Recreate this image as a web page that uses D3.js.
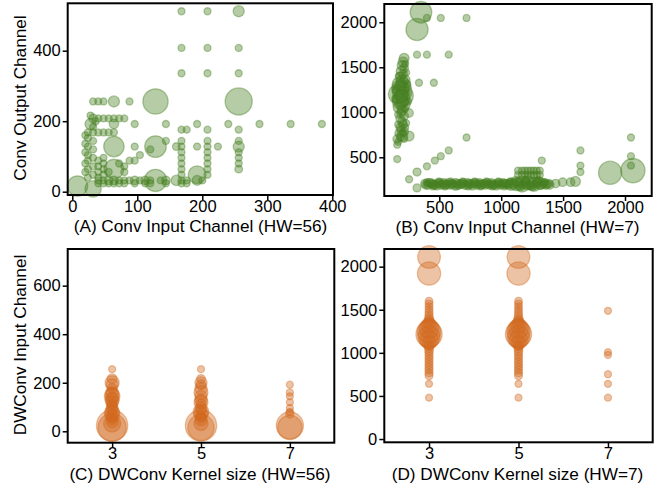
<!DOCTYPE html>
<html><head><meta charset="utf-8">
<script src="https://cdn.jsdelivr.net/npm/d3@7"></script>
<style>
html,body{margin:0;padding:0;background:#fff;}
svg{display:block;font-family:"Liberation Sans",Arial,sans-serif;}
</style></head><body>
<svg id="chart" width="660" height="483"></svg>
<script>
// ---- data: [input/kernel, channel, count] ----
const convHW56 = [
 [168,512,1],[208,512,1],[256,512,2.5],
 [168,408,1],[208,408,1],[256,408,1],
 [168,336,1],[208,336,1],[256,336,1],
 [32,256,1],[40,256,1],[48,256,1],[64,256,2.5],[88,256,1],[128,256,13],[256,256,15],
 [32,208,1.5],[40,208,1],[48,208,1],[56,208,1],[64,208,1],[72,208,1],[80,208,1],
 [28,192,2.5],[64,192,1.8],[96,192,1],[144,192,1],[192,192,1],[240,192,1],[288,192,1],[336,192,1],[384,192,1],
 [40,168,1],[48,168,1],[56,168,1],[64,168,1],[168,176,1],[176,176,1],[208,176,1],[256,176,1],
 [144,144,1],[168,144,1],[208,144,1],[256,144,1],
 [64,128,8.5],[96,128,1],[128,128,9.5],[120,120,1],[160,128,1.2],[168,128,1],[192,128,1],[208,128,1],[224,128,1],[256,128,2.5],
 [168,112,1],[168,96,1],[168,80,1],[168,64,1],[168,48,1],
 [208,112,1],[208,96,1],[208,80,1],[208,64,1],[208,48,1],
 [256,112,1],[256,96,1],[256,80,1],[256,64,1.2],
 [104,104,1],[88,88,1],[80,72,1],[72,80,1],[96,88,1],
 [192,48,6.5],[192,32,2],[160,32,2.2],[128,32,10],[64,64,8],
 [8,16,8.5],[32,8,5.5],
 [40,32,1],[48,32,1],[56,32,1.5],[64,32,1.5],[72,32,1],[80,32,1],[88,32,1],[96,32,1.5],[104,32,1],[112,32,1.5],[120,32,1],[136,32,1],[144,32,1.5],[168,32,1],[176,32,1],[200,32,1],
 [40,24,1],[48,24,1],[56,24,1],[64,24,1],[72,24,1],[80,24,1],[96,24,1],[112,24,1],[120,24,1],[144,24,1],[168,24,1],[176,24,1],
 [24,40,1],[24,64,1],[24,88,1],[24,104,1],[24,128,1],[24,152,1],[24,168,1],
 [20,56,1],[20,80,1],[20,112,1],[20,136,1],[20,160,1],
 [32,48,1],[32,72,1],[32,96,1],[32,120,1],[32,144,1],[32,168,1],[32,184,1],
 [36,200,1],[28,216,1],
 [40,40,1],[40,56,1],[40,72,1],[40,88,1],[48,48,1],[48,64,1],[48,80,1],[48,96,1],[56,56,1],[80,56,1]
];
const convHW7 = [
 [352,2112,9.5],[320,1920,10],[400,2048,1],[512,2048,1],[720,2048,1],
 [320,1640,1],[400,1640,1],[576,1640,1],
 [336,1328,1],[456,1328,1],
 [720,720,1],[160,640,1],[160,480,1],
 [576,576,1],[512,512,1],[464,464,1],[400,400,1],[320,336,1.3],[256,256,1],[320,160,1.3],
 [216,1600,2],[208,1560,2],[200,1520,2],[216,1488,1.5],[192,1456,2],[208,1424,1.5],[184,1392,2],[224,1360,2],[200,1344,3],[176,1312,4],[208,1296,5],[184,1264,6],[200,1232,8],[168,1200,8],[216,1184,7],[192,1152,6],[184,1120,5],[208,1088,4],[176,1056,3],[200,1024,2],[192,992,1.5],[256,992,1.5],[216,960,1.5],[184,928,1.5],[200,896,1.5],[208,864,1.5],[184,832,1.5],[192,800,1.5],[216,784,1.5],[176,768,1.5],[200,736,2.5],[256,736,2],[160,704,1.5],
 [224,1536,1],[232,1440,1],[176,1408,1],[240,1312,1],[152,1248,1],[232,1216,1],[144,1152,1],[248,1120,1],[224,1040,1],[168,976,1],[232,880,1],[168,864,1],[224,832,1],[208,768,1],[184,720,1],[216,704,1],[168,672,1],
 [1880,328,11],[2064,352,12],[2048,720,1],[2048,512,1],[2048,408,1],
 [1640,576,1],[1640,408,1],[1640,336,1],
 [1496,224,1.5],[1560,224,1.5],[1600,232,2],[1440,208,1.5],
 [1328,464,1],
 [1136,352,1],[1168,352,1],[1192,352,1],[1216,352,1],[1240,352,1],[1264,352,1],[1288,352,1],[1312,352,1],
 [1136,304,1],[1168,304,1],[1192,304,1],[1216,304,1],[1240,304,1],[1264,304,1],[1288,304,1],[1312,304,1],
 [1120,208,4],[1168,200,5],[1216,216,4],[1264,200,4],[1312,208,3],[1080,200,3],
 [384,208,1.5],[408,192,1.5],[432,216,1.5],[456,200,1.5],[480,184,1.5],[504,216,1.5],[528,200,1.5],[552,192,1.5],[576,216,1.5],[600,200,1.5],[624,184,1.5],[648,208,1.5],[672,200,1.5],[696,216,1.5],[720,192,1.5],[744,208,1.5],[768,184,1.5],[792,216,1.5],[816,200,1.5],[840,192,1.5],[864,208,1.5],[888,216,1.5],[912,192,1.5],[936,200,1.5],[960,184,1.5],[984,216,1.5],[1008,200,1.5],[1032,208,1.5],[1056,192,1.5],[1104,216,1.5],[1144,184,1.5],[1192,232,1.5],[1240,184,1.5],[1288,232,1.5],[1336,200,1.5],[1360,192,1.5],[1384,208,1.5],
 [392,192,1.5],[416,216,1.5],[440,200,1.5],[464,192,1.5],[488,208,1.5],[512,192,1.5],[536,216,1.5],[560,200,1.5],[584,192,1.5],[608,208,1.5],[632,216,1.5],[656,192,1.5],[680,208,1.5],[704,192,1.5],[728,216,1.5],[752,200,1.5],[776,208,1.5],[800,192,1.5],[824,216,1.5],[848,200,1.5],[872,192,1.5],[896,200,1.5],[920,216,1.5],[944,192,1.5],[968,208,1.5],[992,192,1.5],[1016,216,1.5],[1040,200,1.5],[1064,208,1.5],[1096,192,1.5],[1128,224,1.5],[1152,216,1.5],[1176,192,1.5],[1200,208,1.5],[1224,192,1.5],[1248,216,1.5],[1272,192,1.5],[1296,216,1.5],[1320,192,1.5],[1344,216,1.5],[1368,200,1.5],[1392,192,1.5],
 [400,224,1],[448,176,1],[496,232,1],[544,176,1],[592,232,1],[640,176,1],[688,232,1],[736,176,1],[784,232,1],[832,176,1],[880,232,1],[928,176,1],[976,232,1],[1024,176,1],[1072,232,1],[1160,168,1],[1200,248,1],[1256,168,1],[1304,248,1],[1352,224,1]
];
const dwHW56 = [
 [3,256,1],[3,216,2],[3,200,4],[3,192,3],[3,176,2],[3,160,3],[3,152,4],[3,144,5],[3,136,3],[3,128,4],[3,120,3],[3,112,2],[3,104,2],[3,96,3],[3,88,2],[3,80,4],[3,72,5],[3,64,3],[3,56,2],[3,48,2],[3,40,3],[3,32,6],[3,24,20],[3,16,16],
 [5,256,1],[5,216,1.5],[5,200,3],[5,192,2],[5,176,3],[5,160,4],[5,144,3],[5,128,3],[5,120,4],[5,112,2],[5,96,3],[5,88,2],[5,80,5],[5,72,4],[5,64,2],[5,56,2],[5,48,3],[5,32,4],[5,24,20],[5,16,14],
 [7,192,1],[7,160,1],[7,144,1],[7,120,1],[7,96,1],[7,80,1],[7,72,1.5],[7,24,15],[7,16,12]
];
const dwHW7 = [
 [3,2112,10.5],[3,1920,11],[3,1600,1.2],[3,1568,1.2],[3,1536,1.2],[3,1504,1.2],[3,1472,1.3],[3,1440,1.3],[3,1408,1.5],[3,1376,2],[3,1344,3],[3,1312,5],[3,1280,8],[3,1248,11],[3,1216,14],[3,1184,10],[3,1152,7],[3,1120,4],[3,1088,2],[3,1056,1.5],[3,1024,1.5],[3,992,1.3],[3,960,1.3],[3,928,1.3],[3,896,1.3],[3,864,1.3],[3,832,1.3],[3,800,1.3],[3,768,1.3],[3,736,1.3],[3,640,1],[3,480,1],
 [5,2112,10.5],[5,1920,11],[5,1600,1.2],[5,1568,1.2],[5,1536,1.2],[5,1504,1.2],[5,1472,1.3],[5,1440,1.3],[5,1408,1.5],[5,1376,2],[5,1344,3],[5,1312,5],[5,1280,8],[5,1248,11],[5,1216,14],[5,1184,10],[5,1152,7],[5,1120,4],[5,1088,2],[5,1056,1.5],[5,1024,1.5],[5,992,1.3],[5,960,1.3],[5,928,1.3],[5,896,1.3],[5,864,1.3],[5,832,1.3],[5,800,1.3],[5,768,1.3],[5,736,1.3],[5,640,1],[5,480,1],
 [7,1488,1],[7,1008,1],[7,976,1],[7,752,1],[7,640,1],[7,480,1]
];
const ticksA_x = [0,100,200,300,400], ticksA_y = [0,200,400];
const ticksB_x = [500,1000,1500,2000], ticksB_y = [500,1000,1500,2000];
const ticksK = [3,5,7];
const ticksC_y = [0,200,400,600], ticksD_y = [0,500,1000,1500,2000];
const titles = ["(A) Conv Input Channel (HW=56)","(B) Conv Input Channel (HW=7)","(C) DWConv Kernel size (HW=56)","(D) DWConv Kernel size (HW=7)"];
const yLabels = ["Conv Output Channel","DWConv Input Channel"];

const GREEN = "#467f21", ORANGE = "#d2691e";
const FS_TICK = "16.5px", FS_LAB = "17.2px";
const svg = d3.select("#chart");
const r = d3.scaleSqrt().domain([0,1]).range([0,3.5]);

function panel(cfg){
  const x = d3.scaleLinear().domain(cfg.xd).range([cfg.l, cfg.r]);
  const y = d3.scaleLinear().domain(cfg.yd).range([cfg.b, cfg.t]);
  const g = svg.append("g");
  g.append("g").selectAll("circle").data(cfg.data).join("circle")
    .attr("cx", d=>x(d[0])).attr("cy", d=>y(d[1])).attr("r", d=>r(d[2]))
    .attr("fill", cfg.color).attr("fill-opacity",0.4)
    .attr("stroke", cfg.color).attr("stroke-opacity",0.4).attr("stroke-width",1.3);
  g.append("rect").attr("x",cfg.l).attr("y",cfg.t).attr("width",cfg.r-cfg.l).attr("height",cfg.b-cfg.t)
    .attr("fill","none").attr("stroke","#000").attr("stroke-width",2);
  const ax = g.append("g").attr("transform",`translate(0,${cfg.b})`)
    .call(d3.axisBottom(x).tickValues(cfg.xt).tickSize(5).tickSizeOuter(0).tickPadding(0).tickFormat(d3.format("d")));
  const ay = g.append("g").attr("transform",`translate(${cfg.l},0)`)
    .call(d3.axisLeft(y).tickValues(cfg.yt).tickSize(5).tickSizeOuter(0).tickPadding(2).tickFormat(d3.format("d")));
  [ax,ay].forEach(a=>{
    a.select(".domain").remove();
    a.selectAll(".tick line").attr("stroke","#000").attr("stroke-width",1.5);
    a.selectAll(".tick text").attr("fill","#000").style("font-size",FS_TICK).style("font-family","'Liberation Sans',Arial,sans-serif");
  });
  g.append("text").attr("x",cfg.tx).attr("y",cfg.ty).attr("text-anchor","middle")
    .style("font-size",FS_LAB).attr("fill","#000").text(cfg.title);
  if(cfg.ylab){
    g.append("text").attr("transform",`translate(26,${cfg.yc}) rotate(-90)`).attr("text-anchor","middle")
      .style("font-size",FS_LAB).attr("fill","#000").text(cfg.ylab);
  }
}
panel({data:convHW56,color:GREEN,l:67.7,r:333,t:3.3,b:195,xd:[-7.1,401.1],yd:[-9.4,534.5],xt:ticksA_x,yt:ticksA_y,title:titles[0],tx:200.5,ty:231.5,ylab:yLabels[0],yc:98});
panel({data:convHW7,color:GREEN,l:384.3,r:651.7,t:4,b:196,xd:[55.7,2215.7],yd:[70,2203],xt:ticksB_x,yt:ticksB_y,title:titles[1],tx:517.5,ty:232.5});
panel({data:dwHW56,color:ORANGE,l:67.7,r:334.3,t:249,b:442.7,xd:[2,8],yd:[-47,751],xt:ticksK,yt:ticksC_y,title:titles[2],tx:200,ty:479.5,ylab:yLabels[1],yc:345});
panel({data:dwHW7,color:ORANGE,l:384.3,r:652.7,t:249,b:442.3,xd:[2,8],yd:[-38,2205],xt:ticksK,yt:ticksD_y,title:titles[3],tx:517.5,ty:479.5});
</script>
</body></html>
